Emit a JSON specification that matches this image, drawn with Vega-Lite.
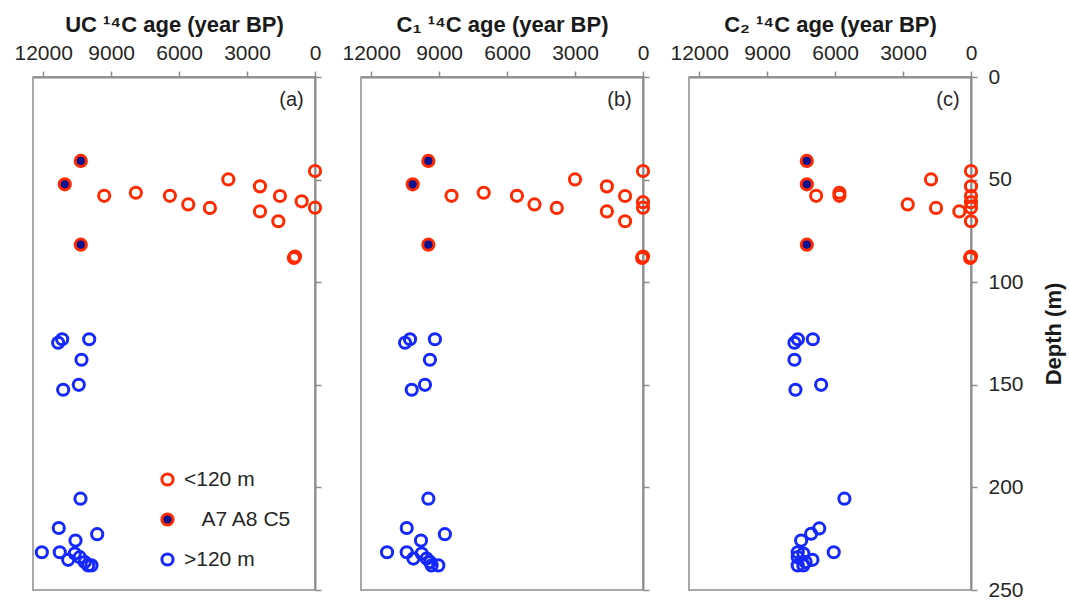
{
  "$schema": "https://vega.github.io/schema/vega-lite/v6.json",
  "background": "white",
  "padding": {"left": 13, "top": 12, "right": 5, "bottom": 5},
  "bounds": "flush",
  "spacing": 46,
  "config": {
    "font": "Liberation Sans",
    "view": {"stroke": "#8c8c8c", "strokeWidth": 1.5},
    "axis": {
      "grid": false,
      "labelFont": "Liberation Sans",
      "labelFontSize": 21,
      "labelColor": "#262626",
      "labelFlush": false,
      "labelOverlap": false,
      "titleFont": "Liberation Sans",
      "titleFontSize": 22,
      "titleFontWeight": "bold",
      "titleColor": "#1a1a1a",
      "domainColor": "#8c8c8c",
      "domainWidth": 2,
      "tickColor": "#8c8c8c",
      "tickWidth": 1.5,
      "tickSize": 6
    }
  },
  "datasets": {
    "ages": [
      {"p": "UC", "g": "A7 A8 C5", "age": 10340, "depth": 40.9},
      {"p": "UC", "g": "A7 A8 C5", "age": 11047, "depth": 52.3},
      {"p": "UC", "g": "A7 A8 C5", "age": 10340, "depth": 81.7},
      {"p": "UC", "g": "<120 m", "age": 9306, "depth": 57.9},
      {"p": "UC", "g": "<120 m", "age": 7910, "depth": 56.4},
      {"p": "UC", "g": "<120 m", "age": 6407, "depth": 57.9},
      {"p": "UC", "g": "<120 m", "age": 5595, "depth": 62.1},
      {"p": "UC", "g": "<120 m", "age": 4640, "depth": 63.8},
      {"p": "UC", "g": "<120 m", "age": 3827, "depth": 49.9},
      {"p": "UC", "g": "<120 m", "age": 2430, "depth": 53.3},
      {"p": "UC", "g": "<120 m", "age": 2430, "depth": 65.5},
      {"p": "UC", "g": "<120 m", "age": 1547, "depth": 58.0},
      {"p": "UC", "g": "<120 m", "age": 1618, "depth": 70.3},
      {"p": "UC", "g": "<120 m", "age": 588, "depth": 60.6},
      {"p": "UC", "g": "<120 m", "age": 0, "depth": 45.8},
      {"p": "UC", "g": "<120 m", "age": 0, "depth": 63.7},
      {"p": "UC", "g": "<120 m", "age": 884, "depth": 87.5},
      {"p": "UC", "g": "<120 m", "age": 930, "depth": 88.2},
      {"p": "UC", "g": ">120 m", "age": 11339, "depth": 129.5},
      {"p": "UC", "g": ">120 m", "age": 11162, "depth": 127.8},
      {"p": "UC", "g": ">120 m", "age": 9969, "depth": 127.8},
      {"p": "UC", "g": ">120 m", "age": 10309, "depth": 137.8},
      {"p": "UC", "g": ">120 m", "age": 10428, "depth": 150.0},
      {"p": "UC", "g": ">120 m", "age": 11118, "depth": 152.4},
      {"p": "UC", "g": ">120 m", "age": 10353, "depth": 205.5},
      {"p": "UC", "g": ">120 m", "age": 11312, "depth": 219.8},
      {"p": "UC", "g": ">120 m", "age": 9616, "depth": 222.8},
      {"p": "UC", "g": ">120 m", "age": 10574, "depth": 225.9},
      {"p": "UC", "g": ">120 m", "age": 12060, "depth": 231.6},
      {"p": "UC", "g": ">120 m", "age": 11268, "depth": 231.6},
      {"p": "UC", "g": ">120 m", "age": 10605, "depth": 232.2},
      {"p": "UC", "g": ">120 m", "age": 10384, "depth": 234.0},
      {"p": "UC", "g": ">120 m", "age": 10897, "depth": 235.3},
      {"p": "UC", "g": ">120 m", "age": 10163, "depth": 236.4},
      {"p": "UC", "g": ">120 m", "age": 10013, "depth": 238.0},
      {"p": "UC", "g": ">120 m", "age": 9868, "depth": 238.0},

      {"p": "C1", "g": "A7 A8 C5", "age": 9477, "depth": 40.9},
      {"p": "C1", "g": "A7 A8 C5", "age": 10167, "depth": 52.3},
      {"p": "C1", "g": "A7 A8 C5", "age": 9477, "depth": 81.7},
      {"p": "C1", "g": "<120 m", "age": 8453, "depth": 57.9},
      {"p": "C1", "g": "<120 m", "age": 7033, "depth": 56.4},
      {"p": "C1", "g": "<120 m", "age": 5565, "depth": 57.9},
      {"p": "C1", "g": "<120 m", "age": 4791, "depth": 62.1},
      {"p": "C1", "g": "<120 m", "age": 3807, "depth": 63.8},
      {"p": "C1", "g": "<120 m", "age": 3002, "depth": 49.9},
      {"p": "C1", "g": "<120 m", "age": 1596, "depth": 53.3},
      {"p": "C1", "g": "<120 m", "age": 1596, "depth": 65.5},
      {"p": "C1", "g": "<120 m", "age": 791, "depth": 58.0},
      {"p": "C1", "g": "<120 m", "age": 791, "depth": 70.3},
      {"p": "C1", "g": "<120 m", "age": 0, "depth": 61.0},
      {"p": "C1", "g": "<120 m", "age": 0, "depth": 45.8},
      {"p": "C1", "g": "<120 m", "age": 0, "depth": 63.7},
      {"p": "C1", "g": "<120 m", "age": 0, "depth": 87.5},
      {"p": "C1", "g": "<120 m", "age": 40, "depth": 88.2},
      {"p": "C1", "g": ">120 m", "age": 10505, "depth": 129.5},
      {"p": "C1", "g": ">120 m", "age": 10286, "depth": 127.8},
      {"p": "C1", "g": ">120 m", "age": 9187, "depth": 127.8},
      {"p": "C1", "g": ">120 m", "age": 9407, "depth": 137.8},
      {"p": "C1", "g": ">120 m", "age": 9626, "depth": 150.0},
      {"p": "C1", "g": ">120 m", "age": 10211, "depth": 152.4},
      {"p": "C1", "g": ">120 m", "age": 9477, "depth": 205.5},
      {"p": "C1", "g": ">120 m", "age": 10431, "depth": 219.8},
      {"p": "C1", "g": ">120 m", "age": 8747, "depth": 222.8},
      {"p": "C1", "g": ">120 m", "age": 9802, "depth": 225.9},
      {"p": "C1", "g": ">120 m", "age": 11300, "depth": 231.6},
      {"p": "C1", "g": ">120 m", "age": 10431, "depth": 231.6},
      {"p": "C1", "g": ">120 m", "age": 9771, "depth": 232.2},
      {"p": "C1", "g": ">120 m", "age": 9552, "depth": 234.7},
      {"p": "C1", "g": ">120 m", "age": 10136, "depth": 234.7},
      {"p": "C1", "g": ">120 m", "age": 9400, "depth": 236.4},
      {"p": "C1", "g": ">120 m", "age": 9332, "depth": 238.0},
      {"p": "C1", "g": ">120 m", "age": 9037, "depth": 238.0},

      {"p": "C2", "g": "A7 A8 C5", "age": 7248, "depth": 40.9},
      {"p": "C2", "g": "A7 A8 C5", "age": 7248, "depth": 52.3},
      {"p": "C2", "g": "A7 A8 C5", "age": 7248, "depth": 81.7},
      {"p": "C2", "g": "<120 m", "age": 6837, "depth": 57.9},
      {"p": "C2", "g": "<120 m", "age": 5809, "depth": 56.4},
      {"p": "C2", "g": "<120 m", "age": 5809, "depth": 57.9},
      {"p": "C2", "g": "<120 m", "age": 2793, "depth": 62.1},
      {"p": "C2", "g": "<120 m", "age": 1544, "depth": 63.8},
      {"p": "C2", "g": "<120 m", "age": 1765, "depth": 49.9},
      {"p": "C2", "g": "<120 m", "age": 0, "depth": 53.3},
      {"p": "C2", "g": "<120 m", "age": 515, "depth": 65.5},
      {"p": "C2", "g": "<120 m", "age": 0, "depth": 58.0},
      {"p": "C2", "g": "<120 m", "age": 0, "depth": 70.3},
      {"p": "C2", "g": "<120 m", "age": 0, "depth": 61.0},
      {"p": "C2", "g": "<120 m", "age": 0, "depth": 45.8},
      {"p": "C2", "g": "<120 m", "age": 0, "depth": 63.7},
      {"p": "C2", "g": "<120 m", "age": 0, "depth": 87.5},
      {"p": "C2", "g": "<120 m", "age": 40, "depth": 88.2},
      {"p": "C2", "g": ">120 m", "age": 7795, "depth": 129.5},
      {"p": "C2", "g": ">120 m", "age": 7645, "depth": 127.8},
      {"p": "C2", "g": ">120 m", "age": 6983, "depth": 127.8},
      {"p": "C2", "g": ">120 m", "age": 7795, "depth": 137.8},
      {"p": "C2", "g": ">120 m", "age": 6617, "depth": 150.0},
      {"p": "C2", "g": ">120 m", "age": 7750, "depth": 152.4},
      {"p": "C2", "g": ">120 m", "age": 5589, "depth": 205.5},
      {"p": "C2", "g": ">120 m", "age": 6700, "depth": 220.0},
      {"p": "C2", "g": ">120 m", "age": 7058, "depth": 222.6},
      {"p": "C2", "g": ">120 m", "age": 7499, "depth": 225.9},
      {"p": "C2", "g": ">120 m", "age": 6060, "depth": 231.6},
      {"p": "C2", "g": ">120 m", "age": 7650, "depth": 231.6},
      {"p": "C2", "g": ">120 m", "age": 7400, "depth": 232.2},
      {"p": "C2", "g": ">120 m", "age": 7650, "depth": 234.0},
      {"p": "C2", "g": ">120 m", "age": 7000, "depth": 235.3},
      {"p": "C2", "g": ">120 m", "age": 7300, "depth": 236.4},
      {"p": "C2", "g": ">120 m", "age": 7650, "depth": 238.0},
      {"p": "C2", "g": ">120 m", "age": 7400, "depth": 238.0}
    ]
  },
  "hconcat": [
    {
      "width": 282,
      "height": 513,
      "layer": [
        {
          "data": {"name": "ages"},
          "transform": [{"filter": "datum.p === 'UC'"}],
          "mark": {"type": "point", "shape": "circle", "size": 125, "strokeWidth": 3, "opacity": 1},
          "encoding": {
            "x": {"field": "age", "type": "quantitative",
              "scale": {"domain": [0, 12450], "reverse": true, "nice": false, "zero": false},
              "axis": {"orient": "top", "title": "UC ¹⁴C age (year BP)", "format": "d", "values": [0, 3000, 6000, 9000, 12000], "labelPadding": 8, "titlePadding": 6}},
            "y": {"field": "depth", "type": "quantitative",
              "scale": {"domain": [0, 250], "reverse": true, "nice": false},
              "axis": {"orient": "right", "values": [0, 50, 100, 150, 200, 250], "labels": false, "title": null}},
            "stroke": {"field": "g", "type": "nominal",
              "scale": {"domain": ["<120 m", "A7 A8 C5", ">120 m"], "range": ["#ff2a00", "#ff2a00", "#1428ff"]},
              "legend": {"orient": "none", "legendX": 124, "legendY": 392, "title": null, "labelFontSize": 21, "labelColor": "#262626", "labelFont": "Liberation Sans", "symbolType": "circle", "symbolSize": 125, "symbolStrokeWidth": 3, "rowPadding": 15, "labelOffset": 6, "labelExpr": "datum.value == 'A7 A8 C5' ? '\u200b\u00a0\u00a0\u00a0A7 A8 C5' : datum.label"}},
            "fill": {"field": "g", "type": "nominal",
              "scale": {"domain": ["<120 m", "A7 A8 C5", ">120 m"], "range": ["transparent", "#0b1290", "transparent"]},
              "legend": {"orient": "none", "legendX": 124, "legendY": 392, "title": null, "labelFontSize": 21, "labelColor": "#262626", "labelFont": "Liberation Sans", "symbolType": "circle", "symbolSize": 125, "symbolStrokeWidth": 3, "rowPadding": 15, "labelOffset": 6, "labelExpr": "datum.value == 'A7 A8 C5' ? '\u200b\u00a0\u00a0\u00a0A7 A8 C5' : datum.label"}}
          }
        },
        {
          "data": {"values": [{"tag": "(a)"}]},
          "mark": {"type": "text", "align": "right", "baseline": "middle", "fontSize": 20, "font": "Liberation Sans", "color": "#262626"},
          "encoding": {"x": {"datum": 500, "type": "quantitative"}, "y": {"datum": 11, "type": "quantitative"}, "text": {"field": "tag"}}
        }
      ]
    },
    {
      "width": 282,
      "height": 513,
      "layer": [
        {
          "data": {"name": "ages"},
          "transform": [{"filter": "datum.p === 'C1'"}],
          "mark": {"type": "point", "shape": "circle", "size": 125, "strokeWidth": 3, "opacity": 1},
          "encoding": {
            "x": {"field": "age", "type": "quantitative",
              "scale": {"domain": [0, 12450], "reverse": true, "nice": false, "zero": false},
              "axis": {"orient": "top", "title": "C₁ ¹⁴C age (year BP)", "format": "d", "values": [0, 3000, 6000, 9000, 12000], "labelPadding": 8, "titlePadding": 6}},
            "y": {"field": "depth", "type": "quantitative",
              "scale": {"domain": [0, 250], "reverse": true, "nice": false},
              "axis": {"orient": "right", "values": [0, 50, 100, 150, 200, 250], "labels": false, "title": null}},
            "stroke": {"field": "g", "type": "nominal",
              "scale": {"domain": ["<120 m", "A7 A8 C5", ">120 m"], "range": ["#ff2a00", "#ff2a00", "#1428ff"]},
              "legend": null},
            "fill": {"field": "g", "type": "nominal",
              "scale": {"domain": ["<120 m", "A7 A8 C5", ">120 m"], "range": ["transparent", "#0b1290", "transparent"]},
              "legend": null}
          }
        },
        {
          "data": {"values": [{"tag": "(b)"}]},
          "mark": {"type": "text", "align": "right", "baseline": "middle", "fontSize": 20, "font": "Liberation Sans", "color": "#262626"},
          "encoding": {"x": {"datum": 500, "type": "quantitative"}, "y": {"datum": 11, "type": "quantitative"}, "text": {"field": "tag"}}
        }
      ]
    },
    {
      "width": 282,
      "height": 513,
      "layer": [
        {
          "data": {"name": "ages"},
          "transform": [{"filter": "datum.p === 'C2'"}],
          "mark": {"type": "point", "shape": "circle", "size": 125, "strokeWidth": 3, "opacity": 1},
          "encoding": {
            "x": {"field": "age", "type": "quantitative",
              "scale": {"domain": [0, 12450], "reverse": true, "nice": false, "zero": false},
              "axis": {"orient": "top", "title": "C₂ ¹⁴C age (year BP)", "format": "d", "values": [0, 3000, 6000, 9000, 12000], "labelPadding": 8, "titlePadding": 6}},
            "y": {"field": "depth", "type": "quantitative",
              "scale": {"domain": [0, 250], "reverse": true, "nice": false},
              "axis": {"orient": "right", "values": [0, 50, 100, 150, 200, 250], "title": "Depth (m)", "titleAngle": 270, "titleBaseline": "top", "labelPadding": 11, "titlePadding": 20}},
            "stroke": {"field": "g", "type": "nominal",
              "scale": {"domain": ["<120 m", "A7 A8 C5", ">120 m"], "range": ["#ff2a00", "#ff2a00", "#1428ff"]},
              "legend": null},
            "fill": {"field": "g", "type": "nominal",
              "scale": {"domain": ["<120 m", "A7 A8 C5", ">120 m"], "range": ["transparent", "#0b1290", "transparent"]},
              "legend": null}
          }
        },
        {
          "data": {"values": [{"tag": "(c)"}]},
          "mark": {"type": "text", "align": "right", "baseline": "middle", "fontSize": 20, "font": "Liberation Sans", "color": "#262626"},
          "encoding": {"x": {"datum": 500, "type": "quantitative"}, "y": {"datum": 11, "type": "quantitative"}, "text": {"field": "tag"}}
        }
      ]
    }
  ],
  "resolve": {
    "scale": {"stroke": "independent", "fill": "independent"},
    "legend": {"stroke": "independent", "fill": "independent"}
  }
}
